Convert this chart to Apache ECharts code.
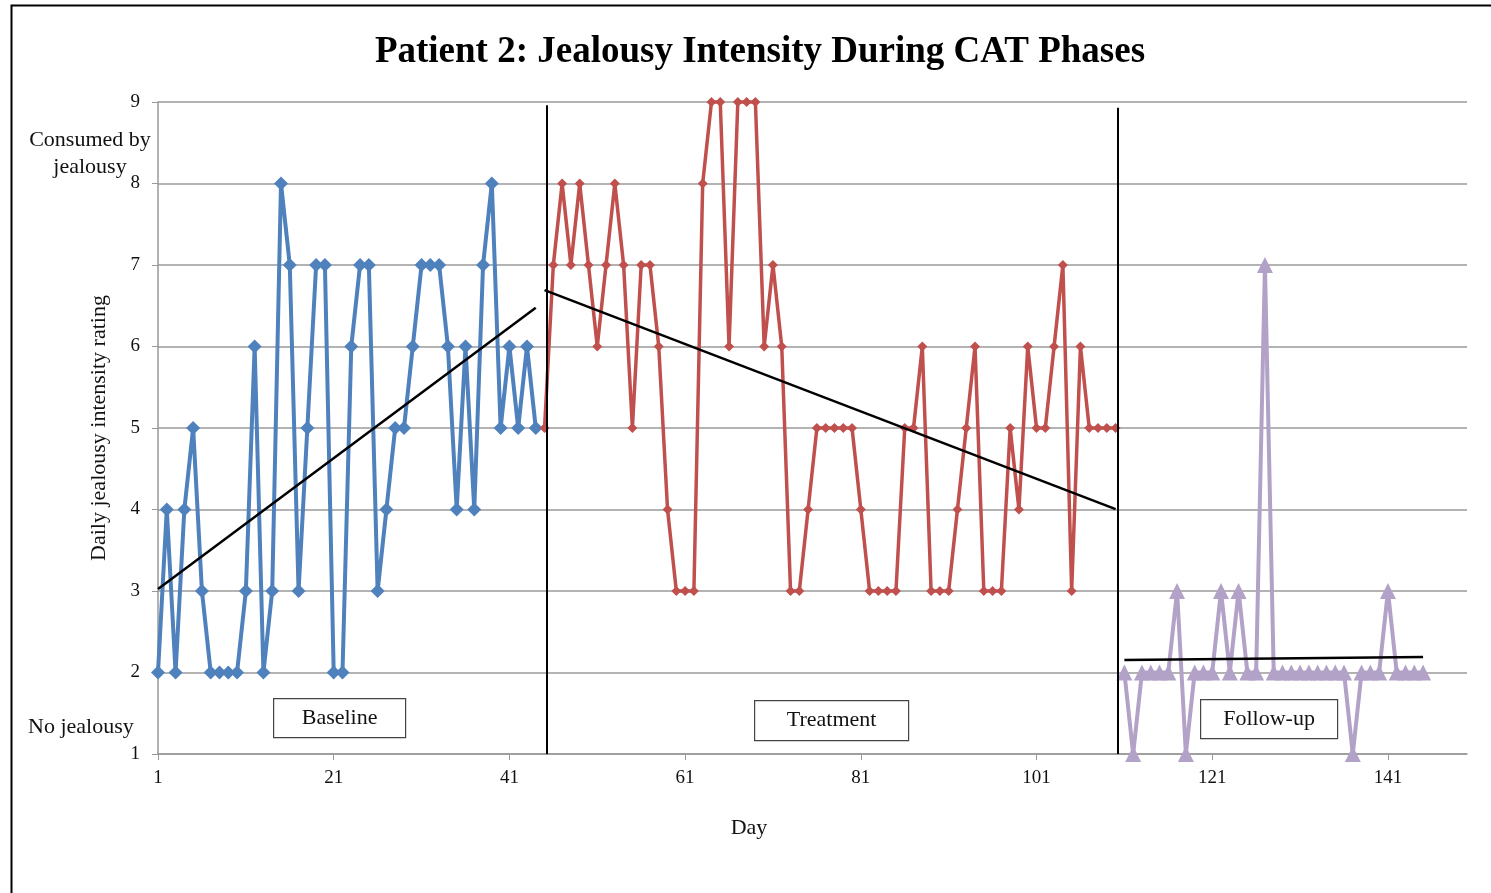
<!DOCTYPE html>
<html>
<head>
<meta charset="utf-8">
<title>Patient 2: Jealousy Intensity During CAT Phases</title>
<script src="https://cdn.jsdelivr.net/npm/echarts@6/dist/echarts.min.js"></script>
<style>
  html, body { margin: 0; padding: 0; background: #fff; }
  #chart { width: 1491px; height: 893px; }
</style>
</head>
<body>
<div id="chart"></div>
<script>
// daily ratings, one array per phase
var baselineStart = 1;
var baseline = [2, 4, 2, 4, 5, 3, 2, 2, 2, 2, 3, 6, 2, 3, 8, 7, 3, 5, 7, 7,
  2, 2, 6, 7, 7, 3, 4, 5, 5, 6, 7, 7, 7, 6, 4, 6, 4, 7, 8, 5, 6, 5, 6, 5];

var treatmentStart = 45;
var treatment = [5, 7, 8, 7, 8, 7, 6, 7, 8, 7, 5, 7, 7, 6, 4, 3, 3, 3, 8, 9,
  9, 6, 9, 9, 9, 6, 7, 6, 3, 3, 4, 5, 5, 5, 5, 5, 4, 3, 3, 3,
  3, 5, 5, 6, 3, 3, 3, 4, 5, 6, 3, 3, 3, 5, 4, 6, 5, 5, 6, 7,
  3, 6, 5, 5, 5, 5];

var followUpStart = 111;
var followUp = [2, 1, 2, 2, 2, 2, 3, 1, 2, 2, 2, 3, 2, 3, 2, 2, 7, 2, 2, 2,
  2, 2, 2, 2, 2, 2, 1, 2, 2, 2, 3, 2, 2, 2, 2];

var dayTicks = [1, 21, 41, 61, 81, 101, 121, 141];
var phaseDividers = [[45.2, 8.96], [110.2, 8.93]];

function toPoints(start, values) {
  return values.map(function (v, i) { return [start + i, v]; });
}

// least squares trend over one phase, drawn from its first to last day
function trend(start, values) {
  var n = values.length, sx = 0, sy = 0, sxy = 0, sxx = 0;
  values.forEach(function (v, i) {
    var x = start + i;
    sx += x; sy += v; sxy += x * v; sxx += x * x;
  });
  var slope = (n * sxy - sx * sy) / (n * sxx - sx * sx);
  var icpt = (sy - slope * sx) / n;
  var x0 = start, x1 = start + n - 1;
  return [[x0, icpt + slope * x0], [x1, icpt + slope * x1]];
}

var serif = '"Liberation Serif", "DejaVu Serif", serif';

function phaseSeries(name, data, color, symbol, size, width) {
  return {
    name: name,
    type: 'line',
    data: data,
    symbol: symbol,
    symbolSize: size,
    clip: false,
    lineStyle: { color: color, width: width },
    itemStyle: { color: color },
    z: 3
  };
}

function trendSeries(data) {
  return {
    type: 'line',
    data: data,
    symbol: 'none',
    lineStyle: { color: '#000', width: 2.5 },
    z: 4
  };
}

function labelBox(x, y, w, h, txt) {
  return {
    type: 'group',
    left: x,
    top: y,
    children: [
      { type: 'rect', shape: { x: 0, y: 0, width: w, height: h },
        style: { fill: '#fff', stroke: '#444', lineWidth: 1.2 } },
      { type: 'text', x: w / 2, y: h / 2,
        style: { text: txt, font: '22px ' + serif, fill: '#111', align: 'center', verticalAlign: 'middle' } }
    ]
  };
}

var chart = echarts.init(document.getElementById('chart'));
var option = {
  animation: false,
  backgroundColor: '#fff',
  title: {
    text: 'Patient 2: Jealousy Intensity During CAT Phases',
    left: 755,
    textAlign: 'center',
    top: 29,
    textStyle: { fontFamily: serif, fontWeight: 'bold', fontSize: 37, color: '#000' }
  },
  grid: { left: 158, right: 24, top: 102, bottom: 139 },
  xAxis: {
    type: 'value',
    min: 1,
    max: 150,
    splitLine: { show: false },
    axisLine: { lineStyle: { color: '#999', width: 1.5 } },
    axisTick: { show: true, customValues: dayTicks, length: 6, lineStyle: { color: '#999' } },
    axisLabel: { customValues: dayTicks, margin: 15, fontFamily: serif, fontSize: 19, color: '#111' }
  },
  yAxis: {
    type: 'value',
    min: 1,
    max: 9,
    interval: 1,
    name: 'Daily jealousy intensity rating',
    nameLocation: 'middle',
    nameRotate: 90,
    nameGap: 48,
    nameTextStyle: { fontFamily: serif, fontSize: 22, color: '#111' },
    axisLine: { show: true, lineStyle: { color: '#999', width: 1.5 } },
    axisTick: { show: true, length: 6, lineStyle: { color: '#999' } },
    axisLabel: { margin: 18, fontFamily: serif, fontSize: 19, color: '#111' },
    splitLine: { lineStyle: { color: '#9a9a9a', width: 1.5 } }
  },
  series: [
    phaseSeries('Baseline', toPoints(baselineStart, baseline), '#4F81BD', 'diamond', 14, 4),
    phaseSeries('Treatment', toPoints(treatmentStart, treatment), '#C0504D', 'diamond', 10, 3.5),
    phaseSeries('Follow-up', toPoints(followUpStart, followUp), '#B3A2C7', 'triangle', 16, 4),
    trendSeries(trend(baselineStart, baseline)),
    trendSeries(trend(treatmentStart, treatment)),
    trendSeries(trend(followUpStart, followUp)),
    {
      type: 'line',
      data: [],
      markLine: {
        silent: true,
        symbol: 'none',
        label: { show: false },
        lineStyle: { color: '#000', width: 2, type: 'solid' },
        data: phaseDividers.map(function (d) {
          return [{ coord: [d[0], 1] }, { coord: [d[0], d[1]] }];
        })
      }
    }
  ],
  graphic: [
    { type: 'rect', left: 9, top: 3, shape: { x: 0, y: 0, width: 1500, height: 900 },
      style: { fill: 'none', stroke: '#000', lineWidth: 2 }, z: -1 },
    { type: 'text', x: 90, y: 127,
      style: { text: 'Consumed by\njealousy', font: '22px ' + serif, fill: '#111', align: 'center', lineHeight: 27 } },
    { type: 'text', x: 28, y: 727,
      style: { text: 'No jealousy', font: '22px ' + serif, fill: '#111', verticalAlign: 'middle' } },
    { type: 'text', x: 749, y: 828,
      style: { text: 'Day', font: '22px ' + serif, fill: '#111', align: 'center', verticalAlign: 'middle' } },
    labelBox(273, 698, 132, 39, 'Baseline'),
    labelBox(754, 700, 154, 40, 'Treatment'),
    labelBox(1200, 699, 137, 39, 'Follow-up')
  ]
};
chart.setOption(option);
</script>
</body>
</html>
